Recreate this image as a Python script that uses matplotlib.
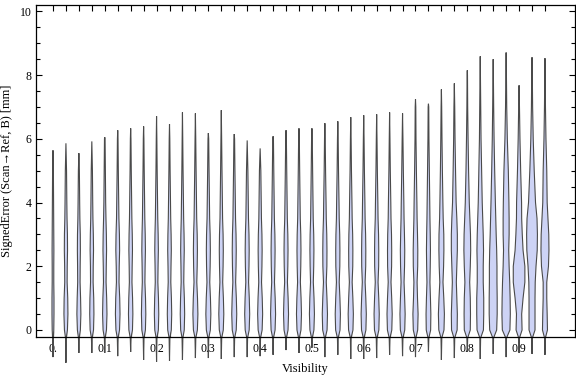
import numpy as np
import matplotlib.pyplot as plt
from matplotlib.ticker import FixedLocator, MultipleLocator

plt.rcParams['font.family'] = ['Liberation Serif', 'DejaVu Serif']

#------------------------------------------------------------
# Data
visibility = [0.0, 0.025, 0.05, 0.075, 0.1, 0.125, 0.15, 0.175, 0.2, 0.225,
              0.25, 0.275, 0.3, 0.325, 0.35, 0.375, 0.4, 0.425, 0.45, 0.475,
              0.5, 0.525, 0.55, 0.575, 0.6, 0.625, 0.65, 0.675, 0.7, 0.725,
              0.75, 0.775, 0.8, 0.825, 0.85, 0.875, 0.9, 0.925, 0.95]

err_max = [5.64, 5.86, 5.55, 5.92, 6.05, 6.27, 6.33, 6.39, 6.71, 6.46,
           6.83, 6.80, 6.18, 6.90, 6.15, 5.95, 5.70, 6.08, 6.27, 6.33,
           6.33, 6.49, 6.55, 6.68, 6.74, 6.77, 6.83, 6.80, 7.24, 7.10,
           7.55, 7.74, 8.15, 8.59, 8.50, 8.71, 7.68, 8.56, 8.53]

err_min = [-0.85, -1.03, -0.72, -0.72, -0.72, -0.82, -0.69, -0.94, -1.00, -0.97,
           -0.94, -0.88, -0.88, -0.91, -0.85, -0.85, -0.82, -0.78, -0.63, -0.72,
           -0.56, -0.85, -0.78, -0.91, -0.91, -0.88, -0.78, -0.82, -0.85, -0.69,
           -0.94, -0.88, -0.69, -0.91, -0.75, -0.85, -0.72, -0.75, -0.78]

# density profile (relative half width) at these error levels
levels = [-0.25, 0, 0.5, 1, 1.5, 2, 2.5, 3, 3.5, 4, 5, 6, 7, 8]
density = [
    [0.4, 0.8, 1.0, 1.0, 0.8, 0.8, 0.9, 0.8, 0.7, 0.6, 0.4, 0.2, 0.1, 0.1],
    [0.4, 1.5, 2.0, 1.8, 1.2, 1.3, 1.6, 1.5, 1.1, 0.9, 0.6, 0.3, 0.1, 0.1],
    [0.4, 1.5, 2.0, 1.7, 1.2, 1.3, 1.5, 1.4, 1.0, 0.8, 0.5, 0.2, 0.1, 0.1],
    [0.4, 1.7, 2.1, 1.9, 1.3, 1.4, 1.7, 1.5, 1.1, 0.9, 0.6, 0.3, 0.1, 0.1],
    [0.4, 1.7, 2.2, 1.9, 1.3, 1.5, 1.8, 1.6, 1.2, 0.9, 0.6, 0.3, 0.1, 0.1],
    [0.4, 1.8, 2.3, 2.0, 1.3, 1.5, 1.9, 1.7, 1.2, 1.0, 0.6, 0.3, 0.1, 0.1],
    [0.4, 1.8, 2.2, 1.9, 1.3, 1.5, 1.8, 1.6, 1.2, 1.0, 0.6, 0.3, 0.1, 0.1],
    [0.4, 1.8, 2.2, 1.9, 1.3, 1.5, 1.8, 1.6, 1.2, 1.0, 0.6, 0.3, 0.1, 0.1],
    [0.4, 1.8, 2.2, 1.9, 1.3, 1.5, 1.8, 1.6, 1.2, 1.0, 0.6, 0.3, 0.1, 0.1],
    [0.4, 1.8, 2.2, 1.9, 1.3, 1.5, 1.8, 1.6, 1.2, 1.0, 0.6, 0.3, 0.1, 0.1],
    [0.4, 1.8, 2.2, 1.9, 1.3, 1.5, 1.8, 1.6, 1.2, 1.0, 0.6, 0.3, 0.1, 0.1],
    [0.4, 2.0, 2.5, 2.1, 1.4, 1.8, 2.0, 1.8, 1.3, 1.1, 0.7, 0.35, 0.2, 0.1],
    [0.4, 2.0, 2.5, 2.1, 1.4, 1.8, 2.0, 1.8, 1.3, 1.1, 0.7, 0.35, 0.2, 0.1],
    [0.4, 2.0, 2.5, 2.1, 1.4, 1.8, 2.0, 1.8, 1.3, 1.1, 0.7, 0.35, 0.2, 0.1],
    [0.4, 2.0, 2.5, 2.1, 1.4, 1.8, 2.0, 1.8, 1.3, 1.1, 0.7, 0.35, 0.2, 0.1],
    [0.4, 2.0, 2.5, 2.1, 1.4, 1.8, 2.0, 1.8, 1.3, 1.1, 0.7, 0.35, 0.2, 0.1],
    [0.4, 2.0, 2.5, 2.1, 1.4, 1.8, 2.0, 1.8, 1.3, 1.1, 0.7, 0.35, 0.2, 0.1],
    [0.4, 2.0, 2.5, 2.1, 1.4, 1.8, 2.0, 1.8, 1.3, 1.1, 0.7, 0.35, 0.2, 0.1],
    [0.4, 2.0, 2.5, 2.1, 1.4, 1.8, 2.0, 1.8, 1.3, 1.1, 0.7, 0.35, 0.2, 0.1],
    [0.4, 2.0, 2.5, 2.1, 1.4, 1.8, 2.0, 1.8, 1.3, 1.1, 0.7, 0.35, 0.2, 0.1],
    [0.4, 2.0, 2.5, 2.1, 1.4, 1.8, 2.0, 1.8, 1.3, 1.1, 0.7, 0.35, 0.2, 0.1],
    [0.4, 2.2, 2.6, 2.1, 1.4, 2.0, 2.1, 1.9, 1.4, 1.2, 0.7, 0.35, 0.2, 0.1],
    [0.4, 2.2, 2.6, 2.1, 1.4, 2.0, 2.1, 1.9, 1.4, 1.2, 0.7, 0.35, 0.2, 0.1],
    [0.4, 2.2, 2.6, 2.1, 1.4, 2.0, 2.1, 1.9, 1.4, 1.2, 0.7, 0.35, 0.2, 0.1],
    [0.4, 2.2, 2.6, 2.1, 1.4, 2.0, 2.1, 1.9, 1.4, 1.2, 0.7, 0.35, 0.2, 0.1],
    [0.4, 2.2, 2.6, 2.1, 1.4, 2.0, 2.1, 1.9, 1.4, 1.2, 0.7, 0.35, 0.2, 0.1],
    [0.4, 2.2, 2.6, 2.1, 1.4, 2.0, 2.1, 1.9, 1.4, 1.2, 0.7, 0.35, 0.2, 0.1],
    [0.4, 2.2, 2.6, 2.1, 1.5, 2.0, 2.2, 1.9, 1.5, 1.3, 0.8, 0.4, 0.2, 0.1],
    [0.4, 2.2, 2.6, 2.0, 1.6, 2.2, 2.3, 2.0, 1.6, 1.4, 0.9, 0.5, 0.3, 0.1],
    [0.4, 2.2, 2.4, 2.0, 1.5, 1.8, 2.0, 1.8, 1.5, 1.3, 0.9, 0.5, 0.3, 0.1],
    [0.4, 2.6, 3.0, 2.4, 1.6, 2.2, 2.5, 2.4, 1.8, 1.5, 1.0, 0.6, 0.3, 0.1],
    [0.4, 2.8, 3.0, 2.5, 2.0, 2.5, 3.0, 3.0, 2.5, 1.8, 1.2, 0.7, 0.4, 0.1],
    [0.4, 3.0, 3.2, 3.0, 2.4, 3.0, 3.4, 3.2, 2.6, 2.0, 1.3, 0.8, 0.4, 0.2],
    [0.4, 3.2, 3.5, 3.5, 3.0, 3.0, 3.3, 3.0, 2.5, 2.0, 1.4, 0.8, 0.5, 0.2],
    [0.4, 3.5, 4.0, 4.0, 3.8, 3.8, 3.5, 3.0, 2.6, 2.2, 1.5, 0.9, 0.5, 0.2],
    [0.4, 3.8, 4.2, 4.0, 3.6, 3.0, 2.6, 3.0, 3.0, 2.8, 2.2, 1.2, 0.6, 0.3],
    [0.4, 3.0, 2.6, 4.0, 5.8, 5.8, 4.0, 3.2, 2.6, 2.5, 1.6, 0.9, 0.4, 0.1],
    [0.4, 3.0, 3.0, 3.0, 3.2, 4.0, 5.2, 5.4, 5.0, 3.5, 2.2, 1.2, 0.6, 0.3],
    [0.4, 2.5, 2.2, 1.8, 1.8, 3.5, 4.0, 3.8, 3.0, 2.2, 1.8, 1.0, 0.5, 0.2],
]

xtick_pos = [0.0, 0.1, 0.2, 0.3, 0.4, 0.5, 0.6, 0.7, 0.8, 0.9]
xtick_labels = ["0.", "0.1", "0.2", "0.3", "0.4", "0.5", "0.6", "0.7",
                "0.8", "0.9"]

#------------------------------------------------------------
# Plot
width_scale = 0.00193   # visibility units per unit of density

fig = plt.figure(figsize=(5.76, 3.77), dpi=100)
ax = fig.add_axes([0.0625, 0.1061, 0.9355, 0.8806])

for x, lo, hi, dens in zip(visibility, err_min, err_max, density):
    ys = [lo] + [l for l in levels if lo < l < hi] + [hi]
    hw = [0.0] + [d for l, d in zip(levels, dens) if lo < l < hi] + [0.0]
    ys = np.array(ys)
    hw = np.array(hw) * width_scale
    px = np.concatenate([x - hw, (x + hw)[::-1]])
    py = np.concatenate([ys, ys[::-1]])
    ax.fill(px, py, fc='#cdd3f5', ec='#4a4a4a', lw=0.8, clip_on=False,
            zorder=2)

ax.set_xlim(-0.0328, 1.0077)
ax.set_ylim(-0.22, 10.2)

ax.xaxis.set_major_locator(FixedLocator(xtick_pos))
ax.set_xticklabels(xtick_labels)
ax.xaxis.set_minor_locator(FixedLocator(visibility))
ax.yaxis.set_major_locator(MultipleLocator(2))
ax.yaxis.set_minor_locator(MultipleLocator(0.5))

ax.tick_params(which='both', direction='in', top=True, right=True,
               labelsize=8.5, width=0.8, pad=3)
ax.tick_params(which='major', length=4.5)
ax.tick_params(which='minor', length=3)
ax.tick_params(axis='x', which='both', length=4, pad=4)

for s in ax.spines.values():
    s.set_linewidth(0.9)

ax.set_xlabel('Visibility', fontsize=9, labelpad=6)
ax.set_ylabel('SignedError (Scan\u2192Ref, B) [mm]', fontsize=9, labelpad=5)

fig.savefig('out.png', dpi=100)
